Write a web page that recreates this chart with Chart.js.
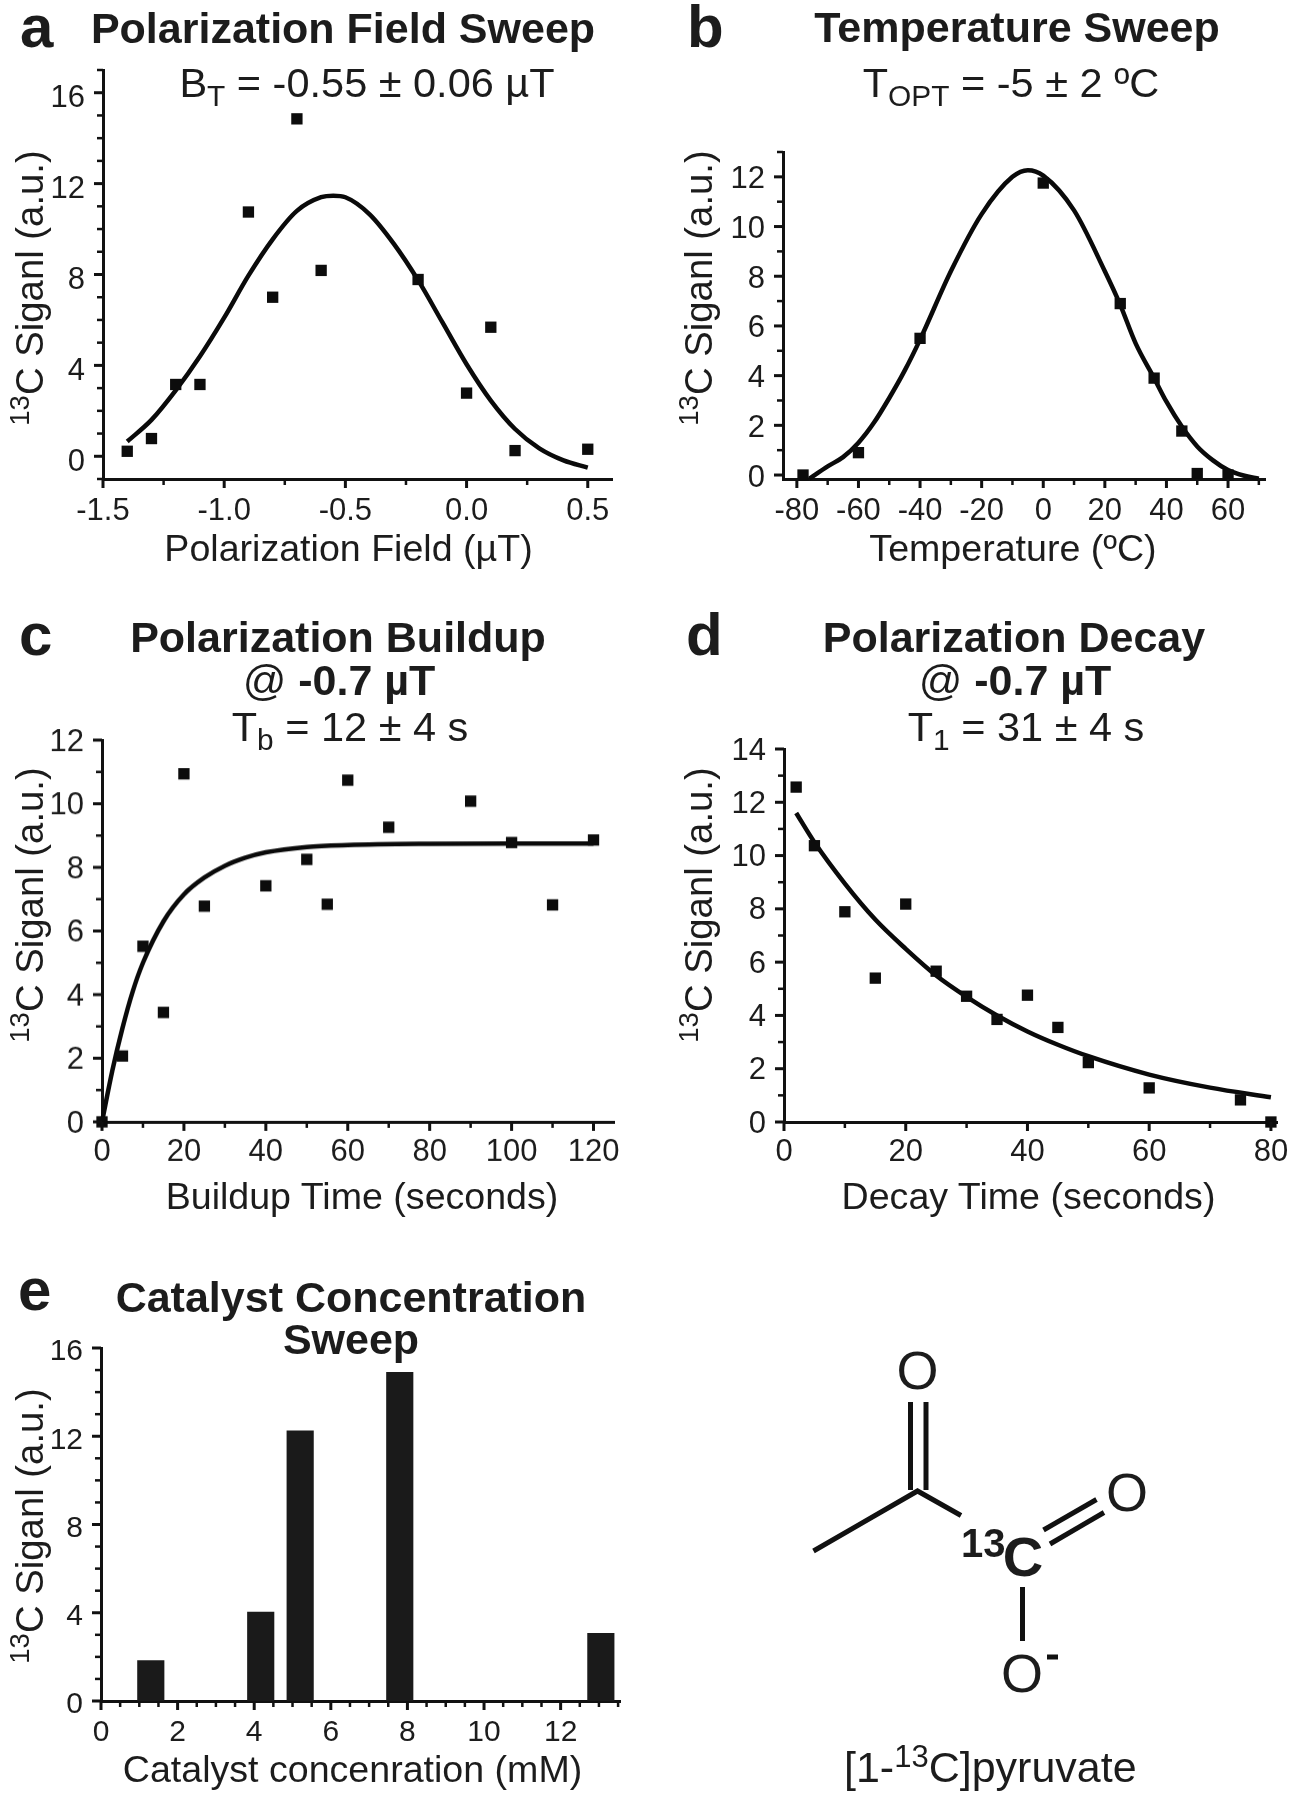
<!DOCTYPE html>
<html lang="en">
<head>
<meta charset="UTF-8">
<title>13C signal optimisation</title>
<script src="https://cdn.jsdelivr.net/npm/chart.js"></script>
<style>
    html, body { margin: 0; padding: 0; background: #fff; }
    body { width: 1297px; height: 1800px; position: relative; overflow: hidden; font-family: "Liberation Sans", Arial, sans-serif; color: #1c1c1c; }
    canvas { position: absolute; }
    .txt { position: absolute; white-space: nowrap; line-height: 1; }
    .txt sub, .txt sup { font-size: 0.72em; line-height: 0; }
    .txt b { font-weight: 700; }
    svg { position: absolute; left: 0; top: 0; }
</style>
</head>
<body>
<canvas id="chartA"></canvas>
<canvas id="chartB"></canvas>
<canvas id="chartC"></canvas>
<canvas id="chartD"></canvas>
<canvas id="chartE"></canvas>

<svg width="1297" height="1800" font-family="Liberation Sans, Arial, sans-serif" fill="#1c1c1c">
    <g stroke="#111" stroke-width="5" fill="none">
        <line x1="910.5" y1="1402" x2="910.5" y2="1490"/>
        <line x1="926" y1="1402" x2="926" y2="1490"/>
        <polyline points="813.5,1551 917.5,1491 961,1515.5"/>
        <line x1="1043.5" y1="1530" x2="1096.5" y2="1499.5"/>
        <line x1="1050" y1="1544" x2="1104" y2="1512.5"/>
        <line x1="1022.5" y1="1587" x2="1022.5" y2="1641"/>
        <line x1="1047" y1="1657" x2="1058" y2="1657"/>
    </g>
    <text x="917.5" y="1389" font-size="54" text-anchor="middle">O</text>
    <text x="1127" y="1511" font-size="54" text-anchor="middle">O</text>
    <text x="1022" y="1691.5" font-size="54" text-anchor="middle">O</text>
    <text x="1023" y="1576" font-size="56" font-weight="700" text-anchor="middle">C</text>
    <text x="961" y="1557" font-size="40" font-weight="700">13</text>
    <text x="844" y="1781.5" font-size="43">[1-<tspan font-size="31" dy="-15">13</tspan><tspan dy="15">C]pyruvate</tspan></text>
</svg>

<script>
    // panel a: polarization field sweep
    const aFieldX = [-1.4, -1.3, -1.2, -1.1, -0.9, -0.8, -0.7, -0.6, -0.2, 0.0, 0.1, 0.2, 0.5];
    const aSignal = [0.22, 0.78, 3.16, 3.16, 10.75, 7.0, 14.85, 8.18, 7.78, 2.78, 5.68, 0.25, 0.31];
    const aFitX = [-1.4, -1.3, -1.2, -1.1, -1.0, -0.9, -0.8, -0.7, -0.6, -0.55, -0.5, -0.4, -0.3, -0.2, -0.1, 0.0, 0.1, 0.2, 0.3, 0.4, 0.5];
    const aFitY = [0.65, 1.6, 2.9, 4.4, 6.1, 7.95, 9.55, 10.8, 11.4, 11.47, 11.4, 10.65, 9.35, 7.75, 5.9, 4.05, 2.45, 1.2, 0.35, -0.18, -0.5];
    const aXTicks = [-1.5, -1.0, -0.5, 0, 0.5];
    const aYTicks = [0, 4, 8, 12, 16];

    // panel b: temperature sweep
    const bTempX = [-78, -60, -40, 0, 25, 36, 45, 50, 60];
    const bSignal = [0, 0.9, 5.5, 11.75, 6.9, 3.9, 1.77, 0.06, 0];
    const bFitX = [-76, -70, -65, -60, -55, -50, -45, -40, -30, -20, -10, -5, 0, 10, 20, 25, 30, 36, 40, 45, 50, 55, 60, 65, 70];
    const bFitY = [-0.15, 0.35, 0.72, 1.3, 2.1, 3.1, 4.2, 5.45, 8.2, 10.5, 12.0, 12.27, 12.05, 10.65, 8.2, 6.85, 5.3, 3.9, 2.95, 1.95, 1.15, 0.6, 0.2, -0.02, -0.15];
    const bXTicks = [-80, -60, -40, -20, 0, 20, 40, 60];
    const bYTicks = [0, 2, 4, 6, 8, 10, 12];

    // panel c: polarization buildup
    const cTimeX = [0, 5, 10, 15, 20, 25, 40, 50, 55, 60, 70, 90, 100, 110, 120];
    const cSignal = [0, 2.07, 5.52, 3.44, 10.94, 6.78, 7.42, 8.25, 6.84, 10.74, 9.26, 10.08, 8.78, 6.82, 8.86];
    const cFitX = [0, 2.5, 5, 7.5, 10, 15, 20, 25, 30, 35, 40, 50, 60, 80, 100, 120];
    const cFitY = [0, 1.6, 2.95, 4.1, 5.0, 6.3, 7.15, 7.68, 8.05, 8.3, 8.47, 8.64, 8.7, 8.74, 8.75, 8.75];
    const cXTicks = [0, 20, 40, 60, 80, 100, 120];
    const cYTicks = [0, 2, 4, 6, 8, 10, 12];

    // panel d: polarization decay
    const dTimeX = [2, 5, 10, 15, 20, 25, 30, 35, 40, 45, 50, 60, 75, 80];
    const dSignal = [12.57, 10.37, 7.89, 5.4, 8.18, 5.66, 4.72, 3.85, 4.76, 3.55, 2.23, 1.28, 0.83, 0];
    const dFitX = [2, 5, 10, 15, 20, 25, 30, 35, 40, 45, 50, 60, 70, 80];
    const dFitY = [11.6, 10.5, 8.95, 7.6, 6.5, 5.5, 4.7, 4.0, 3.4, 2.9, 2.47, 1.78, 1.29, 0.93];
    const dXTicks = [0, 20, 40, 60, 80];
    const dYTicks = [0, 2, 4, 6, 8, 10, 12, 14];

    // panel e: catalyst concentration
    const eConcX = [1.3, 4.17, 5.2, 7.8, 13.05];
    const eSignal = [1.83, 4.03, 12.25, 14.9, 3.07];
    const eXTicks = [0, 2, 4, 6, 8, 10, 12];
    const eYTicks = [0, 4, 8, 12, 16];

    function zipXY(xs, ys) {
        return xs.map((x, i) => ({ x: x, y: ys[i] }));
    }

    function hasTick(list, v) {
        return list.some(t => Math.abs(t - v) < 1e-6);
    }

    // ticks are drawn here so major and minor ones can differ in length
    const axisTicks = {
        id: 'axisTicks',
        beforeDraw(chart) {
            // digits sit a little low next to their tick in the original
            const drop = chart.scales.y.options.labelDrop;
            chart.scales.y.getLabelItems().forEach(item => { item.textOffset += drop; });
        },
        afterDatasetsDraw(chart) {
            const ctx = chart.ctx;
            ctx.save();
            ctx.strokeStyle = '#111';
            Object.values(chart.scales).forEach(scale => {
                const major = scale.options.majorValues;
                scale.ticks.forEach(t => {
                    const isMajor = hasTick(major, t.value);
                    const len = isMajor ? 9 : 6;
                    ctx.lineWidth = isMajor ? 3 : 2.5;
                    ctx.beginPath();
                    if (scale.axis === 'x') {
                        const px = scale.getPixelForValue(t.value);
                        ctx.moveTo(px, scale.top);
                        ctx.lineTo(px, scale.top + len);
                    } else {
                        const py = scale.getPixelForValue(t.value);
                        ctx.moveTo(scale.right, py);
                        ctx.lineTo(scale.right - len, py);
                    }
                    ctx.stroke();
                });
            });
            ctx.restore();
        }
    };

    function axis(min, max, step, major, labelPad, fmt, fontSize, isX, labelDrop) {
        return {
            type: 'linear',
            min: min,
            max: max,
            offset: false,
            majorValues: major,
            labelDrop: labelDrop || 0,
            border: { display: true, color: '#111', width: 3 },
            grid: { display: false, drawTicks: false },
            afterFit(scale) {
                if (isX) scale.height = 70; else scale.width = 100;
                scale.paddingLeft = scale.paddingRight = scale.paddingTop = scale.paddingBottom = 0;
            },
            ticks: {
                stepSize: step,
                includeBounds: false,
                autoSkip: false,
                maxRotation: 0,
                padding: labelPad,
                color: '#1c1c1c',
                font: { family: 'Liberation Sans', size: fontSize },
                callback: v => hasTick(major, v) ? fmt(v) : ''
            }
        };
    }

    function makeChart(id, box, type, datasets, xAxis, yAxis) {
        const cv = document.getElementById(id);
        const pad = { top: 30, right: 40 };
        const w = box.right - box.left + 100 + pad.right;
        const h = box.bottom - box.top + 70 + pad.top;
        cv.width = w;
        cv.height = h;
        cv.style.width = w + 'px';
        cv.style.height = h + 'px';
        cv.style.left = (box.left - 100) + 'px';
        cv.style.top = (box.top - pad.top) + 'px';
        return new Chart(cv, {
            type: type,
            data: { datasets: datasets },
            plugins: [axisTicks],
            options: {
                responsive: false,
                animation: false,
                layout: { padding: { top: pad.top, right: pad.right, left: 0, bottom: 0 } },
                plugins: { legend: { display: false }, tooltip: { enabled: false } },
                scales: { x: xAxis, y: yAxis }
            }
        });
    }

    function scatterSets(px, py, fx, fy) {
        return [
            { data: zipXY(px, py), showLine: false, pointStyle: 'rect', pointRadius: 8, backgroundColor: '#0c0c0c', borderWidth: 0, clip: false },
            { data: zipXY(fx, fy), showLine: true, pointRadius: 0, borderColor: '#0a0a0a', borderWidth: 4.5, cubicInterpolationMode: 'monotone', fill: false, clip: false }
        ];
    }

    const intFmt = v => String(Math.round(v));
    const oneDec = v => v.toFixed(1);

    makeChart('chartA', { left: 103, right: 612, top: 69.5, bottom: 478.5 }, 'scatter',
        scatterSets(aFieldX, aSignal, aFitX, aFitY),
        axis(-1.5, 0.6, 0.25, aXTicks, 14, oneDec, 31, true),
        axis(-1, 17, 1, aYTicks, 18, intFmt, 31, false, 6));

    makeChart('chartB', { left: 783, right: 1265, top: 151.5, bottom: 479 }, 'scatter',
        scatterSets(bTempX, bSignal, bFitX, bFitY),
        axis(-84.5, 72, 10, bXTicks, 14, intFmt, 31, true),
        axis(-0.16, 13, 1, bYTicks, 18, intFmt, 31, false, 3));

    makeChart('chartC', { left: 101.5, right: 614, top: 740, bottom: 1121.5 }, 'scatter',
        scatterSets(cTimeX, cSignal, cFitX, cFitY),
        axis(0, 125, 10, cXTicks, 12, intFmt, 31, true),
        axis(0, 12, 1, cYTicks, 18, intFmt, 31, false, 2));

    makeChart('chartD', { left: 784, right: 1277, top: 749, bottom: 1122 }, 'scatter',
        scatterSets(dTimeX, dSignal, dFitX, dFitY),
        axis(0, 81, 10, dXTicks, 12, intFmt, 31, true),
        axis(0, 14, 1, dYTicks, 18, intFmt, 31, false, 2));

    makeChart('chartE', { left: 101, right: 620, top: 1348, bottom: 1701 }, 'bar',
        [{ data: zipXY(eConcX, eSignal), backgroundColor: '#1a1a1a', barThickness: 26.5, borderWidth: 0 }],
        axis(0, 13.55, 0.5, eXTicks, 14, intFmt, 30, true),
        axis(0, 16, 1, eYTicks, 18, intFmt, 30, false, 4));

    // titles and axis captions, placed by baseline
    function place(html, x, base, size, bold, anchor) {
        const d = document.createElement('div');
        d.className = 'txt';
        d.innerHTML = html;
        d.style.fontSize = size + 'px';
        d.style.fontWeight = bold ? '700' : '400';
        d.style.left = x + 'px';
        d.style.top = (base - 0.8465 * size) + 'px';
        if (anchor !== 'left') d.style.transform = 'translateX(-50%)';
        document.body.appendChild(d);
    }

    function placeY(html, baseX, midY, size) {
        const d = document.createElement('div');
        d.className = 'txt';
        d.innerHTML = html;
        d.style.fontSize = size + 'px';
        d.style.left = (baseX - 0.3465 * size) + 'px';
        d.style.top = midY + 'px';
        d.style.transform = 'translate(-50%, -50%) rotate(-90deg)';
        document.body.appendChild(d);
    }

    place('a', 20, 48, 60, true, 'left');
    place('b', 687, 48, 60, true, 'left');
    place('c', 19, 656, 60, true, 'left');
    place('d', 686, 656, 60, true, 'left');
    place('e', 18, 1311, 60, true, 'left');

    place('Polarization Field Sweep', 343, 43, 43, true);
    place('B<sub>T</sub> = -0.55 ± 0.06 µT', 367, 97, 41.5);
    place('Temperature Sweep', 1017, 42.5, 43, true);
    place('T<sub>OPT</sub> = -5 ± 2 ºC', 1011, 97, 41.5);
    place('Polarization Buildup', 338, 652, 43, true);
    place('@ <b>-0.7 µT</b>', 339, 695, 43);
    place('T<sub>b</sub> = 12 ± 4 s', 350, 741, 41.5);
    place('Polarization Decay', 1014, 652, 43, true);
    place('@ <b>-0.7 µT</b>', 1015, 695, 43);
    place('T<sub>1</sub> = 31 ± 4 s', 1026, 741, 41.5);
    place('Catalyst Concentration', 351, 1312, 43, true);
    place('Sweep', 351, 1354, 43, true);

    place('Polarization Field (µT)', 348.5, 561.5, 37.6);
    place('Temperature (ºC)', 1013, 561.5, 37.6);
    place('Buildup Time (seconds)', 362, 1210, 37.6);
    place('Decay Time (seconds)', 1028.5, 1210, 37.6);
    place('Catalyst concenration (mM)', 352.5, 1783, 37.6);

    const yCaption = '<sup>13</sup>C Siganl (a.u.)';
    placeY(yCaption, 43.5, 288, 38.3);
    placeY(yCaption, 712, 288, 38.3);
    placeY(yCaption, 43, 905, 38.3);
    placeY(yCaption, 712, 905, 38.3);
    placeY(yCaption, 43, 1525.5, 38.3);
</script>
</body>
</html>
